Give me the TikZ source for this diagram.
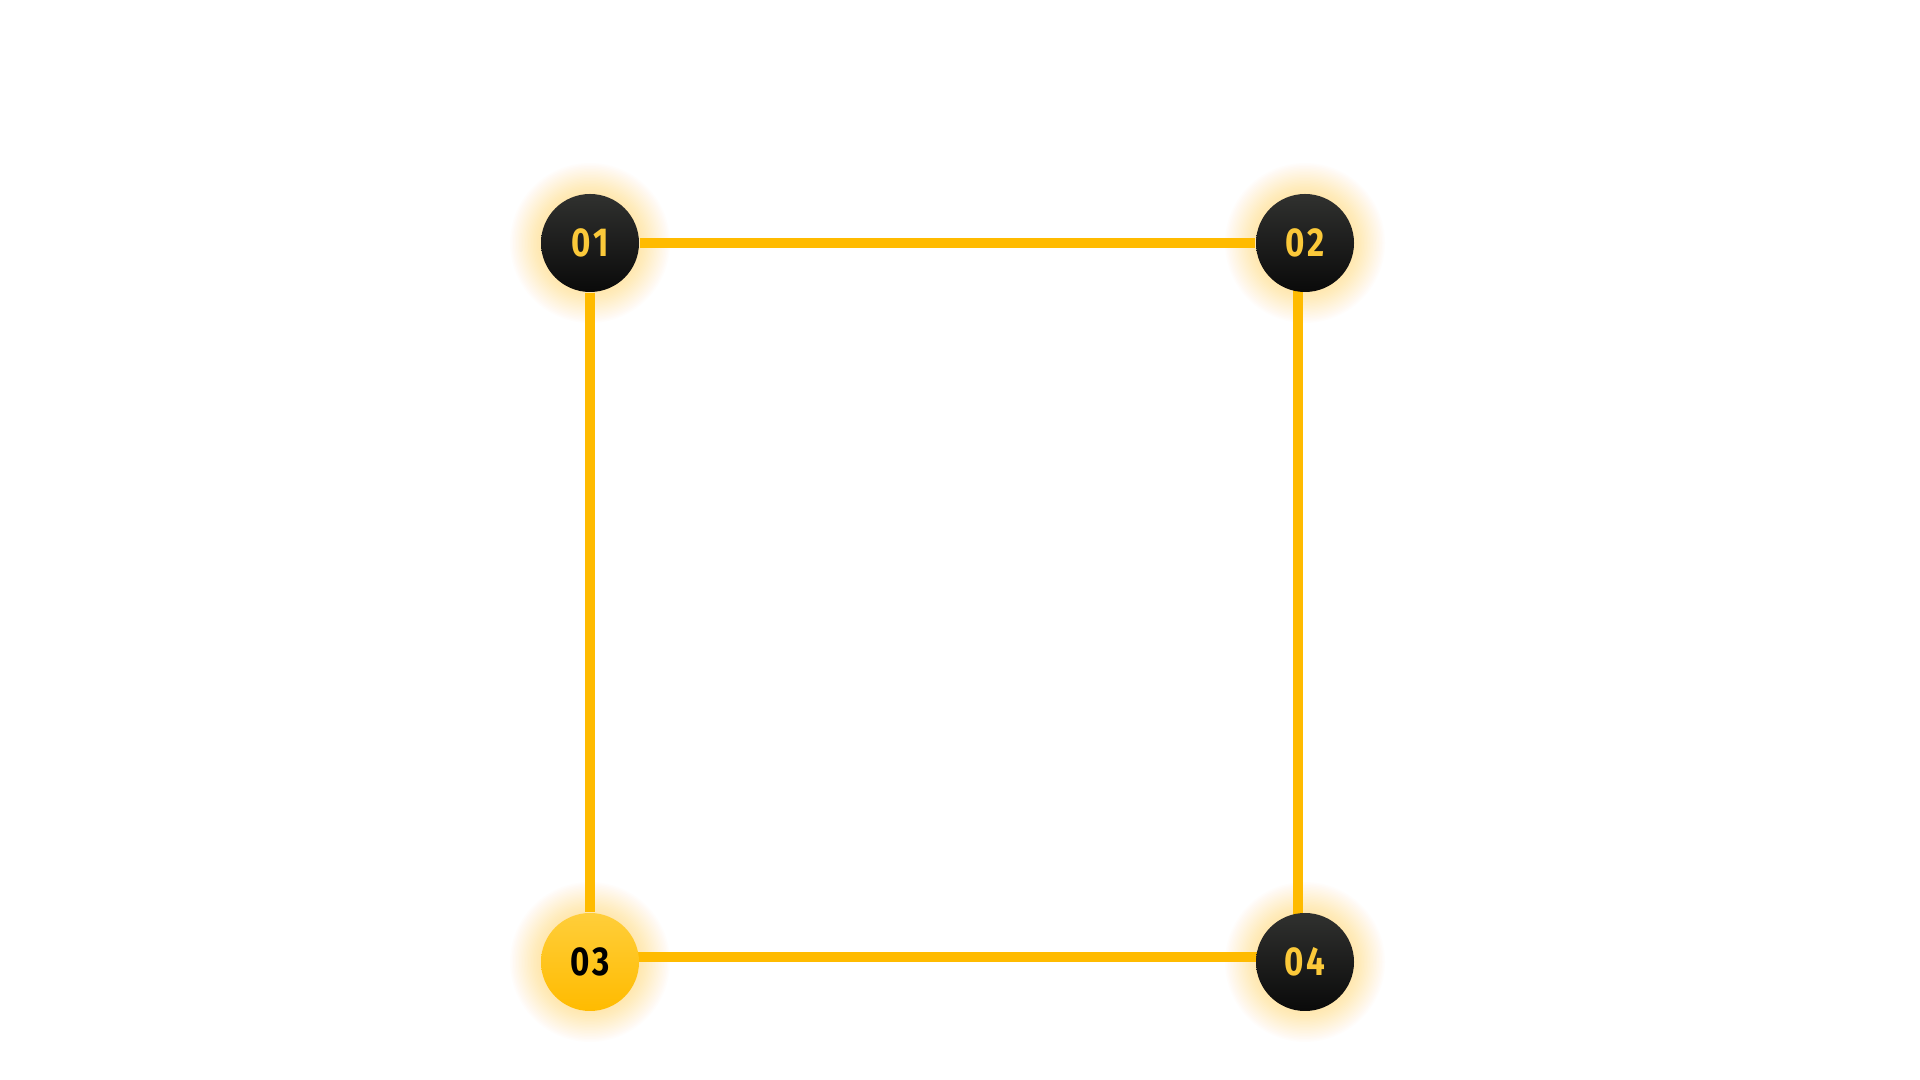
\documentclass[tikz,border=0pt]{standalone}
\usepackage{fontspec}
\newfontfamily\numfont{Fira Sans}[FakeStretch=0.82, LetterSpace=8]
\usetikzlibrary{calc}
\definecolor{gold}{HTML}{FFBB00}
\definecolor{goldtop}{HTML}{FFCE3A}
\definecolor{darktop}{HTML}{30312F}
\definecolor{darkbot}{HTML}{0A0A0A}
\definecolor{numgold}{HTML}{FBC93A}
\pgfdeclarelayer{background}
\pgfsetlayers{background,main}
\tikzset{
    step dot/.style={circle, minimum size=0.98cm, inner sep=0pt,
        font=\numfont\bfseries\fontsize{11.5}{12}\selectfont},
    dark dot/.style={step dot, top color=darktop, bottom color=darkbot, text=numgold},
    gold dot/.style={step dot, top color=goldtop, bottom color=gold, text=black},
    link/.style={draw=gold, line width=0.1cm}
}
\begin{document}
\begin{tikzpicture}
    \node[dark dot] (n1) at (5.90,8.37) {01};
    \node[dark dot] (n2) at (13.05,8.37) {02};
    \node[gold dot] (n3) at (5.90,1.18) {03};
    \node[dark dot] (n4) at (13.05,1.18) {04};

    \begin{pgfonlayer}{background}
        \fill[white] (0,0) rectangle (19.2,10.8);
        % glow
        \foreach \n in {n1,n2,n3,n4}
            {\foreach \r in {0.50,0.515,...,0.80}
                {\fill[gold, opacity=0.014] (\n) circle (\r);}}
        \draw[link] (n1) -- (n2);
        \draw[link] (n1) -- (n3);
        \draw[link] ([xshift=-0.07cm]n2.center) -- ([xshift=-0.07cm]n4.center);
        \draw[link] ([yshift=0.05cm]n3.center) -- ([yshift=0.05cm]n4.center);
    \end{pgfonlayer}
    \useasboundingbox (0,0) rectangle (19.2,10.8);
\end{tikzpicture}
\end{document}
